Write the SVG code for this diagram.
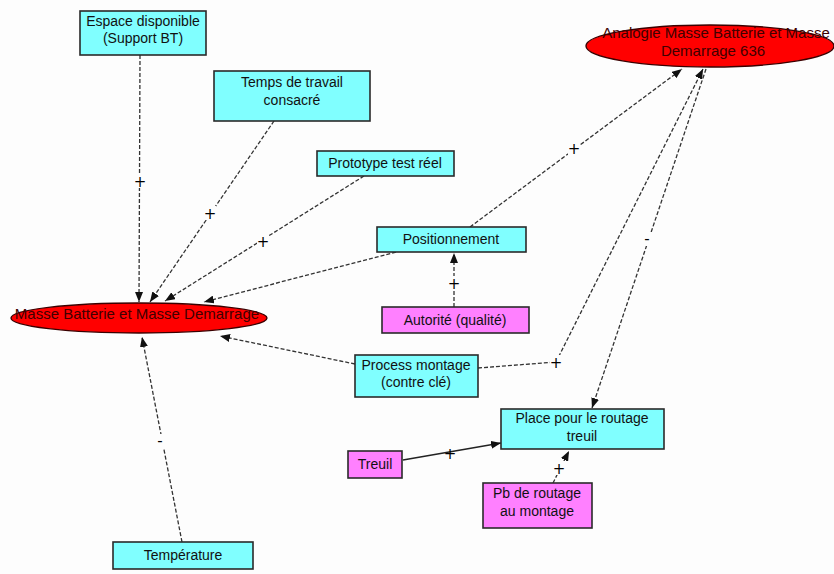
<svg xmlns="http://www.w3.org/2000/svg" width="834" height="574" viewBox="0 0 834 574">
<defs>
<marker id="ah" viewBox="0 0 10 8" refX="10" refY="4" markerWidth="10" markerHeight="8" markerUnits="userSpaceOnUse" orient="auto">
<path d="M0,0 L10,4 L0,8 Z" fill="#111"/>
</marker>
<style>
.box{stroke:#2a2a2a;stroke-width:1.6}
.cy{fill:#80ffff}
.pk{fill:#ff80ff}
.ell{fill:#ff0000;stroke:#3a0000;stroke-width:1.4}
.t{font-family:"Liberation Sans",Arial,sans-serif;font-size:14px;fill:#111;text-anchor:middle}
.te{font-family:"Liberation Sans",Arial,sans-serif;font-size:15px;fill:#400000;text-anchor:middle}
.c{fill:none;stroke:#333;stroke-width:1.3;stroke-dasharray:4 2}
.s{fill:none;stroke:#222;stroke-width:1.5}
.lb{font-family:"DejaVu Sans",sans-serif;font-size:15px;fill:#000;text-anchor:middle}
.bg{fill:#fdfdfd}
</style>
</defs>
<rect width="834" height="574" fill="#fdfdfd"/>
<g id="connectors">
<line class="c" x1="140" y1="55" x2="139" y2="302" marker-end="url(#ah)"/>
<line class="c" x1="274" y1="121" x2="150" y2="302" marker-end="url(#ah)"/>
<line class="c" x1="364" y1="176" x2="165" y2="301" marker-end="url(#ah)"/>
<line class="c" x1="396" y1="252" x2="204" y2="302" marker-end="url(#ah)"/>
<line class="c" x1="355" y1="364" x2="220" y2="336" marker-end="url(#ah)"/>
<line class="c" x1="182" y1="542" x2="142" y2="337" marker-end="url(#ah)"/>
<line class="c" x1="470" y1="227" x2="682" y2="69" marker-end="url(#ah)"/>
<line class="c" x1="454" y1="307" x2="454" y2="253" marker-end="url(#ah)"/>
<polyline class="c" points="478,368 556,362 703,69" marker-end="url(#ah)"/>
<line class="c" x1="706" y1="69" x2="592" y2="408" marker-end="url(#ah)"/>
<line class="s" x1="403" y1="460" x2="501" y2="443" marker-end="url(#ah)"/>
<line class="c" x1="553" y1="483" x2="569" y2="451" marker-end="url(#ah)"/>
<rect class="bg" x="134" y="174" width="12" height="14"/>
<text class="lb" x="140" y="187">+</text>
<rect class="bg" x="204" y="206" width="12" height="14"/>
<text class="lb" x="210" y="219">+</text>
<rect class="bg" x="257" y="234" width="12" height="14"/>
<text class="lb" x="263" y="247">+</text>
<rect class="bg" x="155" y="434" width="10" height="14"/>
<text class="lb" x="160" y="446">-</text>
<rect class="bg" x="568" y="141" width="12" height="14"/>
<text class="lb" x="574" y="154">+</text>
<rect class="bg" x="448" y="276" width="12" height="14"/>
<text class="lb" x="454" y="289">+</text>
<rect class="bg" x="550" y="355" width="12" height="14"/>
<text class="lb" x="556" y="368">+</text>
<rect class="bg" x="642" y="232" width="10" height="14"/>
<text class="lb" x="647" y="244">-</text>
<text class="lb" x="450" y="459">+</text>
<rect class="bg" x="553" y="461" width="12" height="14"/>
<text class="lb" x="559" y="474">+</text>
</g>
<g id="espace">
<rect class="box cy" x="80" y="11" width="126" height="44"/>
<text class="t" x="143" y="26">Espace disponible</text>
<text class="t" x="143" y="43">(Support BT)</text>
</g>
<g id="temps">
<rect class="box cy" x="214" y="71" width="156" height="50"/>
<text class="t" x="292" y="87">Temps de travail</text>
<text class="t" x="292" y="105">consacré</text>
</g>
<g id="prototype">
<rect class="box cy" x="317" y="151" width="137" height="25"/>
<text class="t" x="385" y="168">Prototype test réel</text>
</g>
<g id="positionnement">
<rect class="box cy" x="377" y="227" width="149" height="25"/>
<text class="t" x="451" y="244">Positionnement</text>
</g>
<g id="analogie">
<ellipse class="ell" cx="710" cy="46" rx="124" ry="21"/>
<text class="te" x="716" y="38">Analogie Masse Batterie et Masse</text>
<text class="te" x="713" y="56">Demarrage 636</text>
</g>
<g id="masse">
<ellipse class="ell" cx="139" cy="318" rx="128" ry="15"/>
<text class="te" x="137" y="319">Masse Batterie et Masse Demarrage</text>
</g>
<g id="autorite">
<rect class="box pk" x="382" y="307" width="147" height="26"/>
<text class="t" x="455" y="325">Autorité (qualité)</text>
</g>
<g id="process">
<rect class="box cy" x="355" y="355" width="123" height="42"/>
<text class="t" x="416" y="370">Process montage</text>
<text class="t" x="416" y="387">(contre clé)</text>
</g>
<g id="place">
<rect class="box cy" x="501" y="409" width="163" height="40"/>
<text class="t" x="582" y="423">Place pour le routage</text>
<text class="t" x="582" y="441">treuil</text>
</g>
<g id="treuil">
<rect class="box pk" x="348" y="451" width="54" height="27"/>
<text class="t" x="375" y="469">Treuil</text>
</g>
<g id="pb">
<rect class="box pk" x="483" y="483" width="109" height="45"/>
<text class="t" x="537" y="498">Pb de routage</text>
<text class="t" x="537" y="516">au montage</text>
</g>
<g id="temperature">
<rect class="box cy" x="113" y="542" width="140" height="27"/>
<text class="t" x="183" y="560">Température</text>
</g>
</svg>
